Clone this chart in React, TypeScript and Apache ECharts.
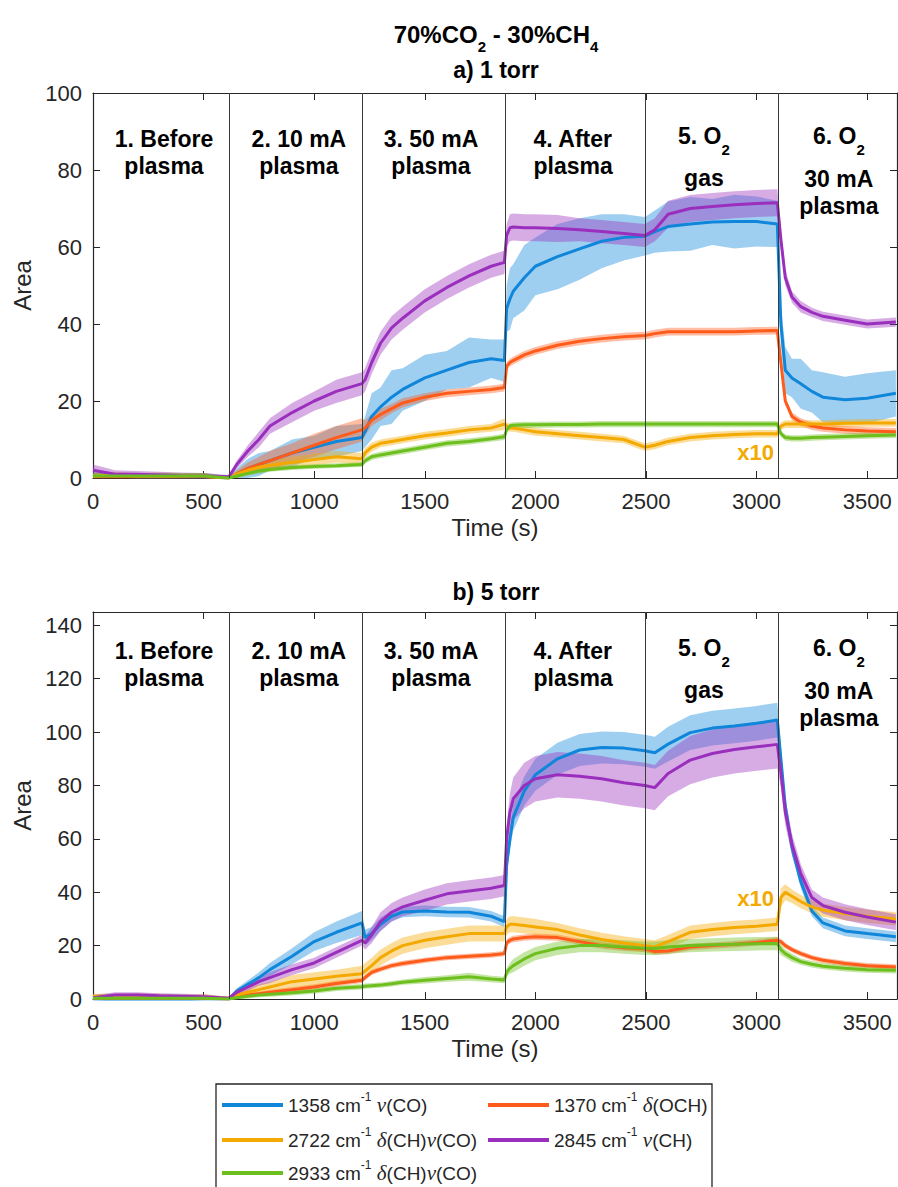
import React, { useEffect, useRef } from "react";
import * as echarts from "echarts";

// ---------------- data ----------------
const TIME = [0, 100, 200, 300, 400, 500, 614, 650, 700, 750, 800, 900, 1000, 1100, 1216, 1230, 1260, 1300, 1350, 1400, 1500, 1600, 1700, 1800, 1860, 1870, 1885, 1900, 1950, 2000, 2100, 2200, 2300, 2400, 2495, 2540, 2600, 2700, 2800, 2900, 3000, 3094, 3110, 3130, 3160, 3200, 3250, 3300, 3400, 3500, 3630];

const STAGE_BOUNDARIES = [614, 1217, 1862, 2496, 3096];
const STAGE_LABEL_T = [321, 931, 1528, 2171, 2762, 3372];
const STAGE_LABELS = [
  ["1. Before", "plasma"],
  ["2. 10 mA", "plasma"],
  ["3. 50 mA", "plasma"],
  ["4. After", "plasma"],
  ["5. O_2", "gas"],
  ["6. O_2", "30 mA", "plasma"],
];
const TITLE = "70%CO_2 - 30%CH_4";
const SUBTITLES = ["a) 1 torr", "b) 5 torr"];

const NAMES = [
  "1358 cm⁻¹ ν(CO)",
  "1370 cm⁻¹ δ(OCH)",
  "2722 cm⁻¹ δ(CH)ν(CO)",
  "2845 cm⁻¹ ν(CH)",
  "2933 cm⁻¹ δ(CH)ν(CO)",
];
const LEGEND_RICH = [
  "{t|1358 cm}{s|-1}{t| }{g|ν}{t|(CO)}",
  "{t|1370 cm}{s|-1}{t| }{g|δ}{t|(OCH)}",
  "{t|2722 cm}{s|-1}{t| }{g|δ}{t|(CH)}{g|ν}{t|(CO)}",
  "{t|2845 cm}{s|-1}{t| }{g|ν}{t|(CH)}",
  "{t|2933 cm}{s|-1}{t| }{g|δ}{t|(CH)}{g|ν}{t|(CO)}",
];
const COLORS = ["#0f86d9", "#ff5b1b", "#f4a900", "#9a2fbe", "#6cbf1c"];

// a) 1 torr
const A_1358 = [0.5, 0.5, 0.3, 0.3, 0.3, 0.3, 0, 1, 2.5, 3.5, 4.5, 6.5, 8, 9.5, 10.5, 12, 16, 18.5, 21, 23, 26, 28, 30, 31, 30.5, 44, 46.5, 48.5, 52, 55, 57.5, 59.5, 61.5, 62.5, 62.8, 64, 65.3, 66, 66.5, 66.6, 66.6, 66, 40, 28, 26, 24.5, 22.5, 21, 20.3, 20.7, 22];
const A_1358_SD = [1, 0.8, 0.8, 1, 0.8, 1, 0.5, 1.5, 2.5, 3, 2.5, 3.5, 3, 4, 3.5, 4, 6, 5, 7, 5.5, 6, 5, 6.5, 5, 5.5, 6, 8, 7, 8.5, 7.5, 8.5, 8, 7, 6, 5, 5.5, 6.5, 7, 6, 7, 6.5, 6, 5, 6, 5, 6.5, 5.5, 6.5, 6, 6.5, 6];
const A_1370 = [0.3, 0.3, 0.3, 0.3, 0.3, 0.3, 0, 1, 2.5, 3.5, 4.5, 6.5, 8.5, 10.5, 12.5, 13, 15, 16.5, 18, 19.5, 21, 22, 22.5, 23, 23.5, 29, 30, 30.5, 32, 33, 34.5, 35.5, 36.2, 36.7, 37, 37.5, 38, 38, 38, 38, 38.2, 38.3, 30, 20, 16, 14.5, 13.5, 13, 12.5, 12.2, 12];
const A_1370_SD = [0.6, 0.6, 0.6, 0.6, 0.6, 0.6, 0.3, 1, 1.5, 2, 2.5, 2.5, 3, 3, 3, 2, 1.5, 1.5, 1.2, 1.2, 1, 1, 1, 1, 1, 1, 1, 1, 1, 1, 1, 1, 1, 1, 1, 1, 1, 1, 1, 1, 1, 1, 1, 1, 1, 1, 1, 1, 1, 1, 1];
const A_2722 = [0.5, 0.8, 0.5, 0.6, 0.5, 0.5, 0, 1, 2, 2.8, 3.3, 4, 4.8, 5.5, 5, 6.5, 8, 9, 9.5, 10, 11, 11.7, 12.5, 13, 14, 13.5, 13, 13, 12.5, 12, 11.5, 11, 10.5, 10, 8, 8.5, 9.5, 10.5, 11, 11.3, 11.5, 11.5, 13.5, 14, 14, 14, 14, 14, 14.2, 14.3, 14.3];
const A_2722_SD = [0.8, 0.8, 0.8, 0.8, 0.8, 0.8, 0.3, 0.8, 1, 1.2, 1.2, 1.5, 1.5, 1.5, 1.5, 1.2, 1.2, 1, 1, 1, 1, 1, 1, 1, 1.5, 1, 1, 1, 1, 1, 1, 1, 1, 1, 1, 1, 1, 1, 1, 1, 1, 1, 1, 1, 1, 1, 1, 1, 1, 1, 1];
const A_2845 = [2, 1, 1, 0.8, 0.6, 0.5, 0.3, 3.5, 7, 10, 13.5, 17, 20, 22.5, 24.5, 25.5, 30, 35, 39, 41.5, 46, 49.5, 52.5, 55, 56, 63, 65, 65.2, 65, 65, 64.8, 64.5, 64, 63.5, 63, 64.5, 68.5, 70, 70.5, 71, 71.3, 71.5, 62, 52, 47, 44.5, 43, 42, 41, 40, 40.5];
const A_2845_SD = [1.5, 1, 0.8, 0.8, 0.8, 0.8, 0.5, 1, 1.5, 2, 2, 2.5, 2.5, 3, 3, 3, 3, 3, 3, 3, 3, 3, 3, 3, 3, 3, 3.5, 3.5, 3.5, 3.5, 3.5, 3, 3, 3, 3, 3, 3.5, 3.5, 3.5, 3.5, 3.5, 3.5, 2.5, 2, 1.5, 1.5, 1.2, 1.2, 1.2, 1.2, 1.2];
const A_2933 = [0.5, 0.5, 0.5, 0.5, 0.5, 0.5, 0, 0.5, 1.2, 1.8, 2.2, 2.7, 3, 3.2, 3.5, 4.5, 5.5, 6, 6.5, 7, 8, 9, 9.5, 10.2, 10.7, 12.5, 13.5, 13.7, 13.8, 13.8, 13.9, 13.9, 14, 14, 14, 14, 14, 14, 14, 14, 14, 14, 11.5, 10.5, 10.3, 10.3, 10.5, 10.6, 10.8, 11, 11.2];
const A_2933_SD = [0.8, 0.8, 0.8, 0.8, 0.8, 0.8, 0.3, 0.5, 0.6, 0.6, 0.6, 0.6, 0.6, 0.6, 0.6, 0.8, 0.8, 0.8, 0.8, 0.8, 0.8, 0.8, 0.8, 0.8, 0.8, 0.8, 0.8, 0.8, 0.8, 0.8, 0.8, 0.8, 0.8, 0.8, 0.8, 0.8, 0.8, 0.8, 0.8, 0.8, 0.8, 0.8, 0.8, 0.8, 0.8, 0.8, 0.8, 0.8, 0.8, 0.8, 0.8];

// b) 5 torr
const B_1358 = [0, -0.3, -0.5, -0.5, -0.3, 0, 0, 3, 5.5, 8, 11, 16, 21.5, 25, 28.5, 23, 24.5, 28, 31, 32.6, 33, 32.6, 32.5, 31, 29, 50, 60, 68, 78, 84, 90, 93.3, 94.2, 94, 93, 92.3, 95.5, 99.8, 101.5, 102.3, 103.3, 104.5, 90, 72, 57, 44, 33, 28.5, 25.5, 24.5, 23.3];
const B_1358_SD = [1, 1, 1, 1, 1, 1, 0.5, 1, 1.5, 2, 2.5, 3, 3.5, 4, 4.5, 3, 2.5, 2.5, 2, 2, 2, 2, 2, 2, 2, 3, 4, 5, 5.5, 6, 6, 6, 6, 6, 6, 6, 6.5, 6.5, 6.5, 6.5, 6.5, 6.5, 5, 4, 3, 2.5, 2, 2, 2, 2, 2];
const B_1370 = [0.3, 0.3, 0.3, 0.3, 0.3, 0.3, 0, 0.8, 1.5, 2, 2.5, 3.5, 4.5, 5.8, 7, 8, 10, 11.2, 12.5, 13.3, 14.5, 15.5, 16, 16.5, 17, 21, 22, 22.5, 23, 23.3, 23, 21.5, 20, 19.2, 18.8, 17.8, 18, 19.5, 20, 20.5, 21.2, 22, 21.5, 20, 18.5, 17, 15.5, 14.5, 13.3, 12.5, 12];
const B_1370_SD = [0.6, 0.6, 0.6, 0.6, 0.6, 0.6, 0.3, 0.6, 0.8, 0.8, 1, 1, 1, 1, 1, 1, 1, 1, 1, 1, 1, 1, 1, 1, 1, 1.2, 1.2, 1.2, 1.2, 1.2, 1.2, 1.2, 1.2, 1.2, 1.2, 1.2, 1.2, 1.2, 1.2, 1.2, 1.2, 1.2, 1, 1, 1, 1, 1, 1, 1, 1, 1];
const B_2722 = [1, 1, 1.2, 1, 0.8, 0.8, 0.3, 1.5, 2.5, 3.5, 4.5, 6.5, 7.5, 8.5, 9.5, 10.5, 12.5, 15.5, 18, 20, 22, 23.3, 24.5, 24.5, 24.5, 27, 28, 28, 27.5, 27, 26, 24, 22.3, 21, 20, 19.5, 21.5, 25, 26, 26.8, 27.3, 28, 38, 40, 38.5, 36.5, 34.5, 33.3, 32, 31, 30];
const B_2722_SD = [1, 1, 1, 1, 1, 1, 0.5, 1, 1.5, 2, 2, 2.5, 2.5, 2.5, 3, 3, 3, 3, 3, 3, 3, 3, 3, 3, 3, 3, 3, 3, 3, 3, 2.5, 2.5, 2.5, 2.5, 2.5, 2.5, 2.5, 2.5, 2.5, 2.5, 2.5, 2.5, 3.5, 3, 2.5, 2.5, 2.5, 2.5, 2.5, 2.5, 2.5];
const B_2845 = [0.5, 1.5, 1.5, 1.2, 1, 0.8, 0.3, 2.5, 4.5, 6.5, 8, 11, 13.5, 17.5, 22, 21, 24, 29, 32.5, 34.5, 37, 39.4, 40.5, 41.5, 42.5, 60, 70, 75, 80, 82.5, 84, 83.5, 82.5, 81, 80, 79.2, 84.5, 89.5, 92, 93.5, 94.5, 95.4, 85, 70, 58, 47, 38, 35, 32.5, 30.7, 28.8];
const B_2845_SD = [1, 1, 1, 1, 1, 1, 0.5, 1, 1.5, 1.5, 2, 2, 2, 2, 2, 2.5, 3, 3.5, 3.5, 3.5, 4, 4, 4, 4, 4, 5, 7, 8, 8.5, 8.5, 8.5, 8.5, 8.5, 8.5, 8.5, 8.5, 8.5, 9, 9, 9, 9, 9, 6, 5, 4, 3.5, 3, 3, 3, 3, 3];
const B_2933 = [0.3, 0.3, 0.3, 0.3, 0.3, 0.3, 0, 0.5, 1, 1.5, 1.8, 2.3, 3, 4, 4.6, 4.8, 5, 5.2, 5.7, 6.3, 7, 7.7, 8.3, 7.5, 7.1, 10, 11.5, 12.5, 15, 17, 19, 20, 20, 19.5, 19, 19, 19.5, 20, 20.3, 20.5, 20.7, 20.8, 18.5, 17, 15.5, 14, 13, 12.3, 11.5, 11, 10.8];
const B_2933_SD = [0.8, 0.8, 0.8, 0.8, 0.8, 0.8, 0.3, 0.5, 0.8, 0.8, 1, 1, 1, 1, 1, 1, 1, 1, 1, 1, 1.2, 1.2, 1.5, 1.2, 1.2, 1.5, 2, 2.5, 2.5, 2.5, 2.5, 2.5, 2.5, 2.5, 2.5, 2.5, 2.5, 2.5, 2.5, 2.5, 2.5, 2.5, 2, 1.5, 1.5, 1.2, 1.2, 1.2, 1.2, 1.2, 1.2];

const X10_POS = [[2996, 6.6], [2996, 37.5]];

// ---------------- layout ----------------
const FONT = "'Liberation Sans', Arial, Helvetica, sans-serif";
const AX = "#262626";
const X_MAX = 3635;
const GRIDS = [
  { left: 93, top: 93, width: 804, height: 385, yMax: 100 },
  { left: 93, top: 612, width: 804, height: 387, yMax: 145 },
];
const LABEL_BASE_Y = [138.5, 650.5];

function axesFor(g: number) {
  const gr = GRIDS[g];
  const tick = { show: true, inside: true, length: 7, lineStyle: { color: AX, width: 1 } };
  const line = { show: true, onZero: false, lineStyle: { color: AX, width: 1.2 } };
  const fmt = (v: number) => String(v);
  const xBottom = {
    type: "value", gridIndex: g, min: 0, max: X_MAX, interval: 500, position: "bottom",
    axisLine: line, axisTick: tick, splitLine: { show: false },
    axisLabel: { fontSize: 22, color: AX, fontFamily: FONT, margin: 12, showMaxLabel: false, formatter: fmt },
    name: "Time (s)", nameLocation: "middle", nameGap: 37,
    nameTextStyle: { fontSize: 24, color: AX, fontFamily: FONT },
  };
  const xTop = {
    type: "value", gridIndex: g, min: 0, max: X_MAX, interval: 500, position: "top",
    axisLine: line, axisTick: tick, splitLine: { show: false }, axisLabel: { show: false },
  };
  const yLeft = {
    type: "value", gridIndex: g, min: 0, max: gr.yMax, interval: 20, position: "left",
    axisLine: line, axisTick: tick, splitLine: { show: false },
    axisLabel: { fontSize: 22, color: AX, fontFamily: FONT, margin: 11, showMaxLabel: gr.yMax === 100, formatter: fmt },
    name: "Area", nameLocation: "middle", nameGap: 52, nameRotate: 90,
    nameTextStyle: { fontSize: 24, color: AX, fontFamily: FONT },
  };
  const yRight = {
    type: "value", gridIndex: g, min: 0, max: gr.yMax, interval: 20, position: "right",
    axisLine: line, axisTick: tick, splitLine: { show: false }, axisLabel: { show: false },
  };
  return { x: [xBottom, xTop], y: [yLeft, yRight] };
}

function bandSeries(g: number, m: number[], sd: number[], color: string, withLines: boolean) {
  const s: any = {
    type: "custom", xAxisIndex: g * 2, yAxisIndex: g * 2, silent: true, z: 2,
    data: [[TIME[0], m[0]]],
    encode: { x: 0, y: 1 },
    renderItem: (params: any, api: any) => {
      const pts: number[][] = [];
      for (let i = 0; i < TIME.length; i++) pts.push(api.coord([TIME[i], m[i] + sd[i]]));
      for (let i = TIME.length - 1; i >= 0; i--) pts.push(api.coord([TIME[i], m[i] - sd[i]]));
      const cs = params.coordSys;
      const clipped = echarts.graphic.clipPointsByRect(pts, { x: cs.x, y: cs.y, width: cs.width, height: cs.height });
      return {
        type: "polygon",
        shape: { points: clipped },
        style: { fill: color, opacity: 0.4 },
      };
    },
  };
  if (withLines) {
    s.markLine = {
      silent: true, symbol: ["none", "none"], label: { show: false },
      lineStyle: { color: "#3c3c3c", width: 1, type: "solid" },
      data: STAGE_BOUNDARIES.map((b) => ({ xAxis: b })),
    };
  }
  return s;
}

function seriesFor(g: number, means: number[][], sds: number[][]) {
  const out: any[] = [];
  means.forEach((m, k) => out.push(bandSeries(g, m, sds[k], COLORS[k], k === 0)));
  means.forEach((m, k) => {
    out.push({
      type: "line", name: NAMES[k], xAxisIndex: g * 2, yAxisIndex: g * 2,
      data: TIME.map((t, i) => [t, m[i]]),
      showSymbol: false, symbol: "none", z: 3,
      color: COLORS[k], itemStyle: { color: COLORS[k] },
      lineStyle: { color: COLORS[k], width: 3 },
    });
  });
  return out;
}

const LEGEND_POS = [
  [222, 1105], [488, 1105], [222, 1140], [488, 1140], [222, 1173],
];

function buildOption() {
  const a = axesFor(0);
  const b = axesFor(1);
  const legendRich = {
    t: { fontFamily: FONT, fontSize: 19, color: AX, lineHeight: 28 },
    s: { fontFamily: FONT, fontSize: 12, color: AX, lineHeight: 10, verticalAlign: "top" },
    g: { fontFamily: "'Liberation Serif', 'DejaVu Serif', serif", fontStyle: "italic", fontSize: 21, color: AX, lineHeight: 28 },
  };
  return {
    animation: false,
    backgroundColor: "#ffffff",
    grid: GRIDS.map((g) => ({ left: g.left, top: g.top, width: g.width, height: g.height, containLabel: false })),
    xAxis: [...a.x, ...b.x],
    yAxis: [...a.y, ...b.y],
    legend: NAMES.map((n, k) => ({
      data: [n], left: LEGEND_POS[k][0], top: LEGEND_POS[k][1] - 14,
      orient: "horizontal", padding: 0, itemGap: 0, itemWidth: 61, itemHeight: 4,
      icon: "rect", selectedMode: false,
      formatter: () => LEGEND_RICH[k],
      textStyle: { rich: legendRich, fontSize: 19, fontFamily: FONT, color: AX },
    })),
    series: [
      ...seriesFor(0, [A_1358, A_1370, A_2722, A_2845, A_2933], [A_1358_SD, A_1370_SD, A_2722_SD, A_2845_SD, A_2933_SD]),
      ...seriesFor(1, [B_1358, B_1370, B_2722, B_2845, B_2933], [B_1358_SD, B_1370_SD, B_2722_SD, B_2845_SD, B_2933_SD]),
    ],
  };
}

// text with "_x" subscripts, laid out as separate pieces measured by canvas
let measureCtx: CanvasRenderingContext2D | null = null;
function measure(text: string, font: string) {
  if (!measureCtx) measureCtx = document.createElement("canvas").getContext("2d");
  measureCtx!.font = font;
  return measureCtx!.measureText(text).width;
}
function splitSub(s: string) {
  const parts: { t: string; sub: boolean }[] = [];
  let buf = "";
  for (let i = 0; i < s.length; i++) {
    if (s[i] === "_" && i + 1 < s.length) {
      if (buf) parts.push({ t: buf, sub: false });
      buf = "";
      parts.push({ t: s[i + 1], sub: true });
      i++;
    } else buf += s[i];
  }
  if (buf) parts.push({ t: buf, sub: false });
  return parts;
}
function composite(s: string, cx: number, cy: number, fs: number, subFs: number, subDy: number, color: string) {
  const parts = splitSub(s);
  const fonts = parts.map((p) => `bold ${p.sub ? subFs : fs}px ${FONT}`);
  const widths = parts.map((p, i) => measure(p.t, fonts[i]));
  const total = widths.reduce((x, y) => x + y, 0);
  let x = cx - total / 2;
  return parts.map((p, i) => {
    const el = {
      type: "text", x, y: cy + (p.sub ? subDy : 0), z: 10, silent: true,
      style: {
        text: p.t, fontFamily: FONT, fontWeight: "bold", fontSize: p.sub ? subFs : fs,
        fill: color, align: "left", verticalAlign: "middle",
      },
    };
    x += widths[i];
    return el;
  });
}

function buildGraphics(chart: any) {
  const els: any[] = [];
  els.push(...composite(TITLE, 496, 34, 24, 15, 12, "#000"));
  els.push(...composite(SUBTITLES[0], 496, 70, 23, 15, 12, "#000"));
  els.push(...composite(SUBTITLES[1], 496, 591.5, 23, 15, 12, "#000"));
  for (let g = 0; g < 2; g++) {
    STAGE_LABELS.forEach((lines, r) => {
      const px = chart.convertToPixel({ xAxisIndex: g * 2 }, STAGE_LABEL_T[r]);
      const hasSub = lines[0].indexOf("_") >= 0;
      const ys = lines.length === 3 ? [-3, 40, 67.5] : hasSub ? [-3, 39.5] : [0, 27];
      lines.forEach((ln, j) => {
        els.push(...composite(ln, px, LABEL_BASE_Y[g] + ys[j], 23, 15, 14, "#000"));
      });
    });
    const p = chart.convertToPixel({ gridIndex: g }, X10_POS[g]);
    els.push({
      type: "text", x: p[0], y: p[1], z: 10, silent: true,
      style: { text: "x10", fontFamily: FONT, fontWeight: "bold", fontSize: 22, fill: COLORS[2], align: "center", verticalAlign: "middle" },
    });
  }
  els.push({
    type: "rect", z: 0, silent: true,
    shape: { x: 216, y: 1084, width: 496, height: 160 },
    style: { fill: "none", stroke: AX, lineWidth: 1.3 },
  });
  return els;
}

export default function App() {
  const ref = useRef<HTMLDivElement>(null);
  useEffect(() => {
    document.body.style.margin = "0";
    const chart = echarts.init(ref.current!, null, { renderer: "svg" });
    chart.setOption(buildOption() as any);
    chart.setOption({ graphic: buildGraphics(chart) } as any);
    return () => chart.dispose();
  }, []);
  return <div ref={ref} style={{ width: 898, height: 1187 }} />;
}
